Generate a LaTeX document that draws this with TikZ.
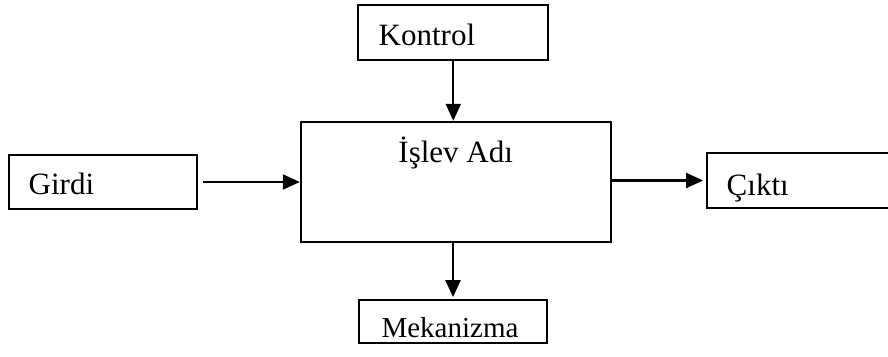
\documentclass[tikz,border=0pt]{standalone}
\usepackage{fontspec}
\setmainfont{Liberation Serif}
\usetikzlibrary{arrows.meta}
\begin{document}
\begin{tikzpicture}[x=1pt,y=-1pt,
  box/.style={draw, line width=1.8pt, inner sep=0pt},
  lbl/.style={inner sep=0pt, font=\fontsize{31}{37}\selectfont},
  arr/.style={line width=2.2pt, -{Triangle[length=17pt,width=15pt]}}]
\useasboundingbox (0,0) rectangle (888,356);
\clip (0,0) rectangle (888,356);
% boxes
\node[box, minimum width=190pt, minimum height=55pt] (kontrol) at (453.3,32.5) {};
\node[box, minimum width=310pt, minimum height=120pt] (func) at (455.7,181.7) {};
\node[box, minimum width=188pt, minimum height=54pt] (girdi) at (103,182) {};
\node[box, minimum width=185pt, minimum height=55pt] (cikti) at (799.5,180.5) {};
\node[box, minimum width=188pt, minimum height=43pt] (mek) at (453,321.5) {};
% labels
\node[lbl, anchor=base west] (kontrolText) at (378.5,45) {Kontrol};
\node[lbl, anchor=base] (funcText) at (455.7,162) {İşlev Adı};
\node[lbl, anchor=base west] (girdiText) at (28.5,194) {Girdi};
\node[lbl, anchor=base west] (ciktiText) at (726.5,195) {Çıktı};
\node[lbl, anchor=base, font=\fontsize{29}{35}\selectfont] (mekText) at (450,337) {Mekanizma};
% connectors
\draw[arr] (kontrol.south) -- (kontrol.south |- func.north);
\draw[arr, shorten <=5pt] (girdi.east) -- (girdi.east -| func.west);
\draw[arr, shorten >=3pt] (func.east |- cikti.west) -- (cikti.west);
\draw[arr, shorten >=2pt] (mek.north |- func.south) -- (mek.north);
\end{tikzpicture}
\end{document}
